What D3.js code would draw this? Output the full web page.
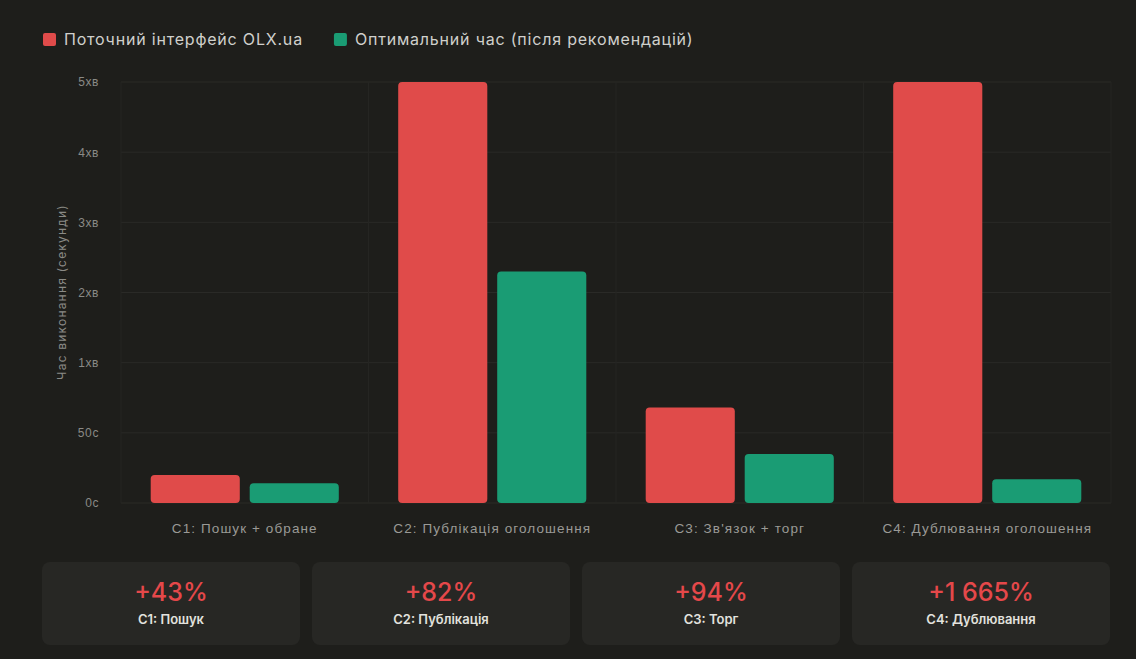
<!DOCTYPE html>
<html>
<head>
<meta charset="utf-8">
<script src="https://cdn.jsdelivr.net/npm/d3@7"></script>
<style>
  html, body { margin: 0; padding: 0; background: #1e1e1b; }
  svg { display: block; font-family: Inter, "Noto Sans", sans-serif; }
</style>
</head>
<body>
<svg id="chart"></svg>
<script>
// data
const categories = ['C1: Пошук + обране', 'C2: Публікація оголошення', "C3: Зв'язок + торг", 'C4: Дублювання оголошення'];
const seriesNames = ['Поточний інтерфейс OLX.ua', 'Оптимальний час (після рекомендацій)'];
const currentTimes = [20, 300, 68, 300];
const optimalTimes = [14, 165, 35, 17];
const yTicks = [0, 50, 100, 150, 200, 250, 300];
const gainLabels = ['+43%', '+82%', '+94%', '+1 665%'];
const gainNames = ['C1: Пошук', 'C2: Публікація', 'C3: Торг', 'C4: Дублювання'];

const w = 1136, h = 659;
const colors = ['#e04b4a', '#1a9c74'];

const svg = d3.select('#chart').attr('width', w).attr('height', h);
svg.append('rect').attr('width', w).attr('height', h).attr('fill', '#1e1e1b');

const plotLeft = 121, plotRight = 1111, plotTop = 82, plotBottom = 503;

const x0 = d3.scaleBand().domain(categories).range([plotLeft, plotRight])
    .paddingInner(0.2).paddingOuter(0.1);
const x1 = d3.scaleBand().domain(seriesNames).range([0, x0.bandwidth()])
    .paddingInner(0.1).paddingOuter(0.05);
const y = d3.scaleLinear().domain([0, 300]).range([plotBottom, plotTop]);

const fmt = v => v < 60 ? v + 'с' : Math.floor(v / 60) + 'хв';

// grid
const grid = svg.append('g');
grid.selectAll('line.h').data(yTicks).enter().append('line')
    .attr('x1', plotLeft).attr('x2', plotRight)
    .attr('y1', d => y(d)).attr('y2', d => y(d))
    .attr('stroke', '#2a2a27').attr('stroke-width', 1);
const edges = categories.map(c => x0(c) - x0.step() * 0.1).concat([plotRight]);
grid.selectAll('line.v').data(edges).enter().append('line')
    .attr('x1', d => d).attr('x2', d => d)
    .attr('y1', plotTop).attr('y2', plotBottom)
    .attr('stroke', '#252522').attr('stroke-width', 1);

// y axis
const yAxis = d3.axisLeft(y).tickValues(yTicks).tickFormat(fmt).tickSize(0).tickPadding(22);
svg.append('g')
    .attr('transform', 'translate(' + plotLeft + ',0)')
    .call(yAxis)
    .call(g => g.select('.domain').remove())
    .selectAll('text')
    .attr('fill', '#8a8a86')
    .style('font-size', '12px')
    .style('letter-spacing', '0.6px');

svg.append('text')
    .attr('text-anchor', 'middle')
    .attr('transform', 'rotate(-90)')
    .attr('x', -292)
    .attr('y', 66)
    .attr('fill', '#8a8a86')
    .style('font-size', '12px')
    .style('letter-spacing', '1.2px')
    .text('Час виконання (секунди)');

// x axis
const xAxis = d3.axisBottom(x0).tickSize(0).tickPadding(20);
svg.append('g')
    .attr('transform', 'translate(0,' + plotBottom + ')')
    .call(xAxis)
    .call(g => g.select('.domain').remove())
    .selectAll('text')
    .attr('fill', '#9a9a96')
    .style('font-size', '13.5px')
    .style('letter-spacing', '1.1px');

// bars
const rows = categories.map((c, i) => ({ cat: c, vals: [currentTimes[i], optimalTimes[i]] }));
const groups = svg.append('g').selectAll('g').data(rows).enter().append('g')
    .attr('transform', d => 'translate(' + x0(d.cat) + ',0)');
groups.selectAll('rect')
    .data(d => d.vals.map((v, j) => ({ v, j })))
    .enter()
    .append('rect')
    .attr('x', d => x1(seriesNames[d.j]))
    .attr('y', d => y(d.v))
    .attr('width', x1.bandwidth())
    .attr('height', d => plotBottom - y(d.v))
    .attr('rx', 4)
    .attr('fill', d => colors[d.j]);

// legend
const legend = svg.append('g').attr('transform', 'translate(43,33)');
let lx = 0;
seriesNames.forEach((s, i) => {
  const item = legend.append('g').attr('transform', 'translate(' + lx + ',0)');
  item.append('rect').attr('width', 13).attr('height', 13).attr('rx', 2).attr('fill', colors[i]);
  const t = item.append('text').attr('x', 21).attr('y', 12)
      .attr('fill', '#d0d0cc').style('font-size', '16px').style('letter-spacing', '0.8px').text(s);
  lx += 21 + t.node().getComputedTextLength() + 31;
});

// summary cards
const cardW = 258, cardGap = 12, cardY = 562, cardH = 83;
const cards = svg.append('g').selectAll('g').data(gainLabels).enter().append('g')
    .attr('transform', (d, i) => 'translate(' + (42 + i * (cardW + cardGap)) + ',' + cardY + ')');
cards.append('rect')
    .attr('width', cardW).attr('height', cardH).attr('rx', 8)
    .attr('fill', '#272724');
cards.append('text')
    .attr('x', cardW / 2).attr('y', 39)
    .attr('text-anchor', 'middle')
    .attr('fill', '#e5484a')
    .style('font-size', '25px').style('font-weight', 500)
    .text(d => d);
cards.append('text')
    .attr('x', cardW / 2).attr('y', 62)
    .attr('text-anchor', 'middle')
    .attr('fill', '#e2e2de')
    .style('font-size', '13px').style('font-weight', 600)
    .text((d, i) => gainNames[i]);
</script>
</body>
</html>
